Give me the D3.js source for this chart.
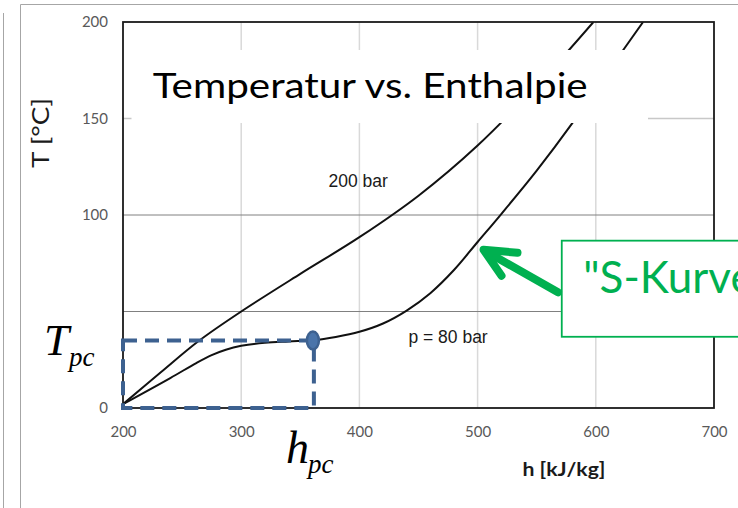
<!DOCTYPE html>
<html>
<head>
<meta charset="utf-8">
<script src="https://cdn.jsdelivr.net/npm/d3@7"></script>
<style>
  html, body { margin: 0; padding: 0; background: #fff; }
  svg { display: block; }
</style>
</head>
<body>
<svg id="chart" width="738" height="508"></svg>
<script>
// Enthalpy axis (kJ/kg) and temperature axis (°C)
const hTicks = [200, 300, 400, 500, 600, 700];
const tTickLabels = [0, 100, 150, 200];
const tGridDark = [50, 100];
const tGridLight = [150];

// Isobar at 200 bar: enthalpy / temperature pairs
const h200 = [200, 232, 264, 300, 350, 400, 450, 500, 550, 598];
const T200 = [2, 18.5, 34.7, 50, 69.5, 88.5, 110, 136, 167, 200];

// Isobar at 80 bar
const h80 = [200, 240, 262, 275, 287, 300, 320, 340, 361.5, 380, 400, 420, 440, 460, 480, 500, 520, 550, 580, 610, 640];
const T80 = [2, 15.5, 23.3, 27.4, 30.2, 32.2, 33.8, 34.5, 35.1, 36.8, 39.5, 43.8, 50.5, 59.5, 71.5, 86, 100.5, 123, 147.5, 174, 200];

// Pseudo-critical point at 80 bar
const hpc = 361.5;
const Tpc = 35;

// Curve labels and their anchor points (h, T)
const curveLabels = [
  { text: "200 bar", h: 399, T: 114.5 },
  { text: "p = 80 bar", h: 475, T: 33.5 }
];

// "S-Kurve" call-out: arrow tail and tip, box corner (h, T)
const arrowTail = [568, 60];
const arrowTip = [505, 82];
const calloutCorner = [571.2, 86.7];
const calloutBottom = 36.9;

const svg = d3.select("#chart");
const x = d3.scaleLinear().domain([200, 700]).range([123, 714]);
const y = d3.scaleLinear().domain([0, 200]).range([408, 22]);

// Slide frame lines
const frame = svg.append("g").attr("stroke", "#a6a6a6").attr("stroke-width", 1).attr("fill", "none");
frame.append("path").attr("d", "M3.5,13 V508");
frame.append("path").attr("d", "M20.5,508 V4.5 H738");

// Gridlines
const grid = svg.append("g");
grid.selectAll(".vg").data(hTicks.slice(1, -1)).join("line")
  .attr("x1", d => x(d)).attr("x2", d => x(d))
  .attr("y1", y(200)).attr("y2", y(0))
  .attr("stroke", "#d9d9d9").attr("stroke-width", 1.5);
grid.selectAll(".hl").data(tGridLight).join("line")
  .attr("x1", x(200)).attr("x2", x(700))
  .attr("y1", d => y(d)).attr("y2", d => y(d))
  .attr("stroke", "#c8c8c8").attr("stroke-width", 1.5);
grid.selectAll(".hd").data(tGridDark).join("line")
  .attr("x1", x(200)).attr("x2", x(700))
  .attr("y1", d => y(d)).attr("y2", d => y(d))
  .attr("stroke", "#808080").attr("stroke-width", 1);

// Isobars
svg.append("clipPath").attr("id", "plotClip")
  .append("rect").attr("x", x(200)).attr("y", y(200))
  .attr("width", x(700) - x(200)).attr("height", y(0) - y(200));

const line = d3.line().x(d => x(d[0])).y(d => y(d[1])).curve(d3.curveCatmullRom.alpha(0.5));
const curves = svg.append("g").attr("clip-path", "url(#plotClip)")
  .attr("fill", "none").attr("stroke", "#111").attr("stroke-width", 2);
curves.append("path").attr("d", line(d3.zip(h200, T200)));
curves.append("path").attr("d", line(d3.zip(h80, T80)));

// Plot border
svg.append("rect")
  .attr("x", x(200)).attr("y", y(200))
  .attr("width", x(700) - x(200)).attr("height", y(0) - y(200))
  .attr("fill", "none").attr("stroke", "#1a1a1a").attr("stroke-width", 1.8);

// Axes
const axisFont = "Lato, 'Open Sans', sans-serif";
const yAxis = svg.append("g").attr("transform", `translate(${x(200)},0)`)
  .call(d3.axisLeft(y).tickValues(tTickLabels).tickSize(0).tickPadding(15));
const xAxis = svg.append("g").attr("transform", `translate(0,${y(0)})`)
  .call(d3.axisBottom(x).tickValues(hTicks).tickSize(0).tickPadding(18));
[yAxis, xAxis].forEach(a => {
  a.select(".domain").remove();
  a.selectAll("text").attr("fill", "#595959")
    .style("font-family", axisFont).style("font-size", "15px");
});

svg.append("text")
  .attr("transform", `translate(49,133) rotate(-90)`)
  .attr("text-anchor", "middle")
  .attr("textLength", 70).attr("lengthAdjust", "spacingAndGlyphs")
  .style("font-family", axisFont).style("font-size", "24px").attr("fill", "#1a1a1a")
  .text("T [°C]");

svg.append("text")
  .attr("x", 564).attr("y", 476)
  .attr("text-anchor", "middle")
  .attr("textLength", 83).attr("lengthAdjust", "spacingAndGlyphs")
  .style("font-family", axisFont).style("font-size", "19px").style("font-weight", "bold")
  .attr("fill", "#1a1a1a")
  .text("h [kJ/kg]");

// Curve labels
svg.selectAll(".clabel").data(curveLabels).join("text")
  .attr("x", d => x(d.h)).attr("y", d => y(d.T))
  .attr("text-anchor", "middle")
  .style("font-family", "'Liberation Sans', Arial, sans-serif").style("font-size", "17.5px")
  .attr("fill", "#1a1a1a")
  .text(d => d.text);

// Title on a white panel
svg.append("rect").attr("x", 131.5).attr("y", 50).attr("width", 516.5).attr("height", 73).attr("fill", "#fff");
svg.append("text")
  .attr("x", 152.7).attr("y", 98.3)
  .attr("textLength", 435).attr("lengthAdjust", "spacingAndGlyphs")
  .style("font-family", axisFont).style("font-size", "35px").attr("fill", "#000")
  .text("Temperatur vs. Enthalpie");

// Pseudo-critical point: dashed box to the axes and marker
const pcColor = "#3d6190";
svg.append("rect")
  .attr("x", x(200)).attr("y", y(Tpc))
  .attr("width", x(hpc) - x(200)).attr("height", y(0) - y(Tpc))
  .attr("fill", "none").attr("stroke", pcColor).attr("stroke-width", 4)
  .attr("stroke-dasharray", "14 8");
svg.append("ellipse")
  .attr("cx", x(hpc) - 1).attr("cy", y(Tpc))
  .attr("rx", 6).attr("ry", 9)
  .attr("fill", "#4a74aa").attr("stroke", pcColor).attr("stroke-width", 2.5);

const serif = "'Liberation Serif', 'Times New Roman', serif";
const tpc = svg.append("text").attr("x", 44).attr("y", 355)
  .style("font-family", serif).style("font-style", "italic").attr("fill", "#000");
tpc.append("tspan").style("font-size", "45px").text("T");
tpc.append("tspan").attr("x", 69).attr("y", 366).style("font-size", "27px").text("pc");

const hpcLabel = svg.append("text").attr("x", 286).attr("y", 463)
  .style("font-family", serif).style("font-style", "italic").attr("fill", "#000");
hpcLabel.append("tspan").style("font-size", "46px").text("h");
hpcLabel.append("tspan").attr("x", 308).attr("y", 473).style("font-size", "27px").text("pc");

// "S-Kurve" call-out
const green = "#00b050";
svg.append("rect")
  .attr("x", x(calloutCorner[0])).attr("y", y(calloutCorner[1]))
  .attr("width", 200).attr("height", y(calloutBottom) - y(calloutCorner[1]))
  .attr("fill", "#fff").attr("stroke", green).attr("stroke-width", 1.8);
svg.append("text")
  .attr("x", x(calloutCorner[0]) + 21.5).attr("y", 293.3)
  .style("font-family", axisFont).style("font-size", "44px").attr("fill", green)
  .text("\"S-Kurve");

const tip = [x(arrowTip[0]), y(arrowTip[1])];
const tail = [x(arrowTail[0]), y(arrowTail[1])];
const arrow = svg.append("g").attr("fill", "none").attr("stroke", green)
  .attr("stroke-width", 8).attr("stroke-linecap", "round").attr("stroke-linejoin", "round");
arrow.append("path").attr("d", `M${tail[0]},${tail[1]} L${tip[0] + 3},${tip[1] + 2}`);
arrow.append("path").attr("d", `M${tip[0] + 34},${tip[1] + 3} L${tip[0]},${tip[1]} L${tip[0] + 18},${tip[1] + 26}`);
</script>
</body>
</html>
